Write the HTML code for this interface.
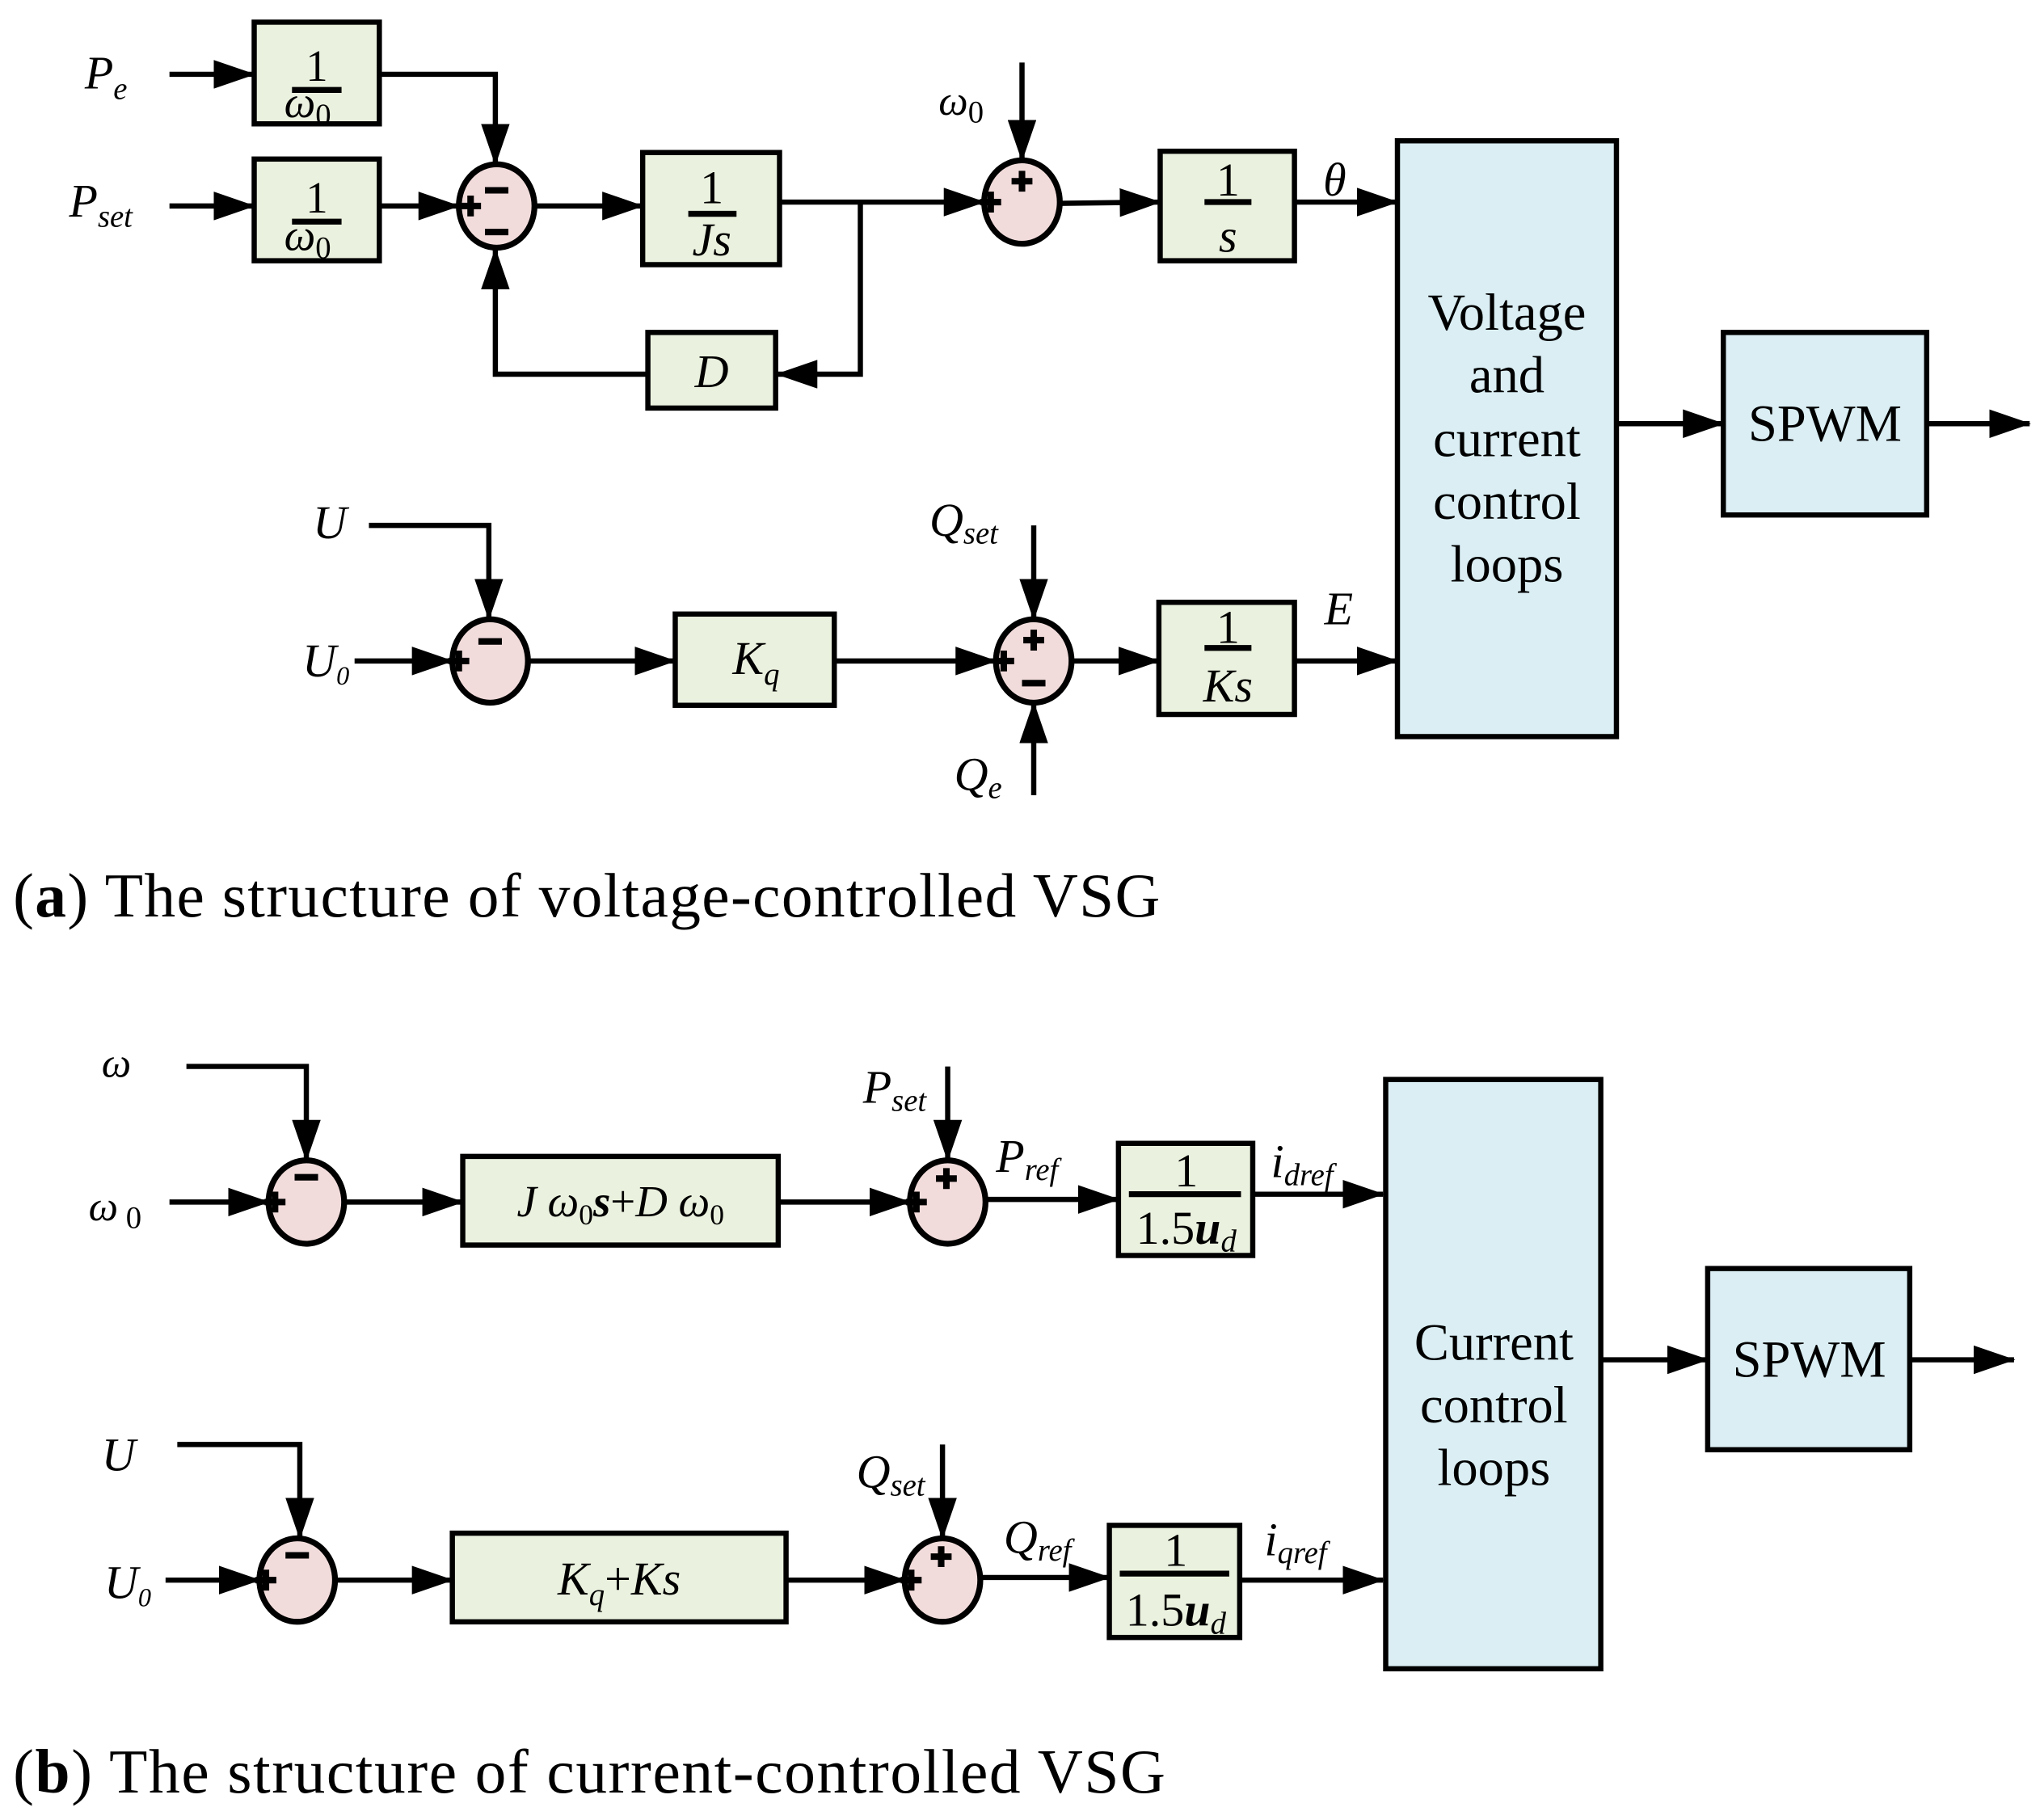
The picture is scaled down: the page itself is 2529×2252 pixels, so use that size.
<!DOCTYPE html>
<html><head><meta charset="utf-8"><style>
html,body{margin:0;padding:0;background:#fff;}
svg{display:block;}
text{font-family:"Liberation Serif",serif;fill:#000;}
.i{font-style:italic;}
</style></head><body>
<svg width="2529" height="2252" viewBox="0 0 1568 1396" preserveAspectRatio="none" xmlns="http://www.w3.org/2000/svg">
<defs>
<marker id="a" viewBox="0 0 32 22" refX="31" refY="11" markerWidth="32" markerHeight="22" markerUnits="userSpaceOnUse" orient="auto">
<path d="M0,0 L32,11 L0,22 z" fill="#000"/></marker>
</defs>
<g stroke="#000" stroke-width="4" fill="none" stroke-linejoin="miter">
<rect x="195" y="17" width="96" height="78" fill="#eaf1de"/>
<rect x="195" y="122" width="96" height="78" fill="#eaf1de"/>
<rect x="493" y="117" width="105" height="86" fill="#eaf1de"/>
<rect x="497" y="255" width="98" height="58" fill="#eaf1de"/>
<rect x="890" y="116" width="103" height="84" fill="#eaf1de"/>
<rect x="1072" y="108" width="168" height="457" fill="#daeef3"/>
<rect x="1322" y="255" width="156" height="140" fill="#daeef3"/>
<rect x="518" y="471" width="122" height="70" fill="#eaf1de"/>
<rect x="889" y="462" width="104" height="86" fill="#eaf1de"/>
<rect x="355" y="887" width="242" height="68" fill="#eaf1de"/>
<rect x="858" y="877" width="103" height="86" fill="#eaf1de"/>
<rect x="1063" y="828" width="165" height="452" fill="#daeef3"/>
<rect x="1310" y="973" width="155" height="139" fill="#daeef3"/>
<rect x="347" y="1176" width="256" height="68" fill="#eaf1de"/>
<rect x="851" y="1170" width="100" height="86" fill="#eaf1de"/>
<g stroke-width="4.5" fill="#f2dcdb">
<ellipse cx="381" cy="158" rx="29" ry="32"/>
<ellipse cx="784" cy="155" rx="29" ry="32"/>
<ellipse cx="376" cy="507" rx="29" ry="32"/>
<ellipse cx="793" cy="507" rx="29" ry="32"/>
<ellipse cx="235" cy="922" rx="29" ry="32"/>
<ellipse cx="727" cy="922" rx="29" ry="32"/>
<ellipse cx="228" cy="1212" rx="29" ry="32"/>
<ellipse cx="723" cy="1212" rx="29" ry="32"/>
</g>
<path d="M130,57 H195" marker-end="url(#a)"/>
<path d="M130,158 H195" marker-end="url(#a)"/>
<path d="M291,57 H380 V126" marker-end="url(#a)"/>
<path d="M291,158 H352" marker-end="url(#a)"/>
<path d="M410,158 H493" marker-end="url(#a)"/>
<path d="M598,155 H755" marker-end="url(#a)"/>
<path d="M660,155 V287 H596" marker-end="url(#a)"/>
<path d="M497,287 H380 V191" marker-end="url(#a)"/>
<path d="M784,48 V123" marker-end="url(#a)"/>
<path d="M813,156 L890,155" marker-end="url(#a)"/>
<path d="M993,155 H1072" marker-end="url(#a)"/>
<path d="M1240,325 H1322" marker-end="url(#a)"/>
<path d="M1478,325 H1557" marker-end="url(#a)"/>
<path d="M283,403 H375 V475" marker-end="url(#a)"/>
<path d="M272,507 H347" marker-end="url(#a)"/>
<path d="M405,507 H518" marker-end="url(#a)"/>
<path d="M640,507 H764" marker-end="url(#a)"/>
<path d="M793,403 V475" marker-end="url(#a)"/>
<path d="M793,610 V539" marker-end="url(#a)"/>
<path d="M822,507 H889" marker-end="url(#a)"/>
<path d="M993,507 H1072" marker-end="url(#a)"/>
<path d="M143,818 H235 V890" marker-end="url(#a)"/>
<path d="M130,922 H206" marker-end="url(#a)"/>
<path d="M264,922 H355" marker-end="url(#a)"/>
<path d="M597,922 H698" marker-end="url(#a)"/>
<path d="M727,818 V890" marker-end="url(#a)"/>
<path d="M756,920 H858" marker-end="url(#a)"/>
<path d="M961,916 H1061" marker-end="url(#a)"/>
<path d="M1228,1043 H1310" marker-end="url(#a)"/>
<path d="M1465,1043 H1545" marker-end="url(#a)"/>
<path d="M136,1108 H230 V1180" marker-end="url(#a)"/>
<path d="M127,1212 H199" marker-end="url(#a)"/>
<path d="M257,1212 H347" marker-end="url(#a)"/>
<path d="M603,1212 H694" marker-end="url(#a)"/>
<path d="M723,1108 V1180" marker-end="url(#a)"/>
<path d="M752,1210 H851" marker-end="url(#a)"/>
<path d="M951,1212 H1061" marker-end="url(#a)"/>
<path d="M224,69 H262 M224,170 H262 M528,164 H565 M924,155 H960 M924,497 H960 M866,916 H952 M859,1207 H943" stroke-width="4.5"/>
<g stroke-width="5">
<path d="M353,158 h16 M361,150 v16 M372,146 h18 M372,178 h18"/>
<path d="M752,155 h16 M760,147 v16 M776,139 h16 M784,131 v16"/>
<path d="M344,507 h16 M352,499 v16 M367,492 h18"/>
<path d="M762,507 h16 M770,499 v16 M785,491 h16 M793,483 v16 M784,524 h18"/>
<path d="M203,922 h16 M211,914 v16 M226,903 h18"/>
<path d="M695,922 h16 M703,914 v16 M718,904 h16 M726,896 v16"/>
<path d="M196,1212 h16 M204,1204 v16 M219,1193 h18"/>
<path d="M691,1212 h16 M699,1204 v16 M714,1194 h16 M722,1186 v16"/>
</g>
</g>
<g font-size="36">
<text x="65" y="68" class="i">P<tspan font-size="24" dy="8">e</tspan></text>
<text x="53" y="166" class="i">P<tspan font-size="24" dy="8">set</tspan></text>
<text x="243" y="62" text-anchor="middle" font-size="34">1</text>
<text x="236" y="90" text-anchor="middle" font-size="34" class="i">ω<tspan font-size="24" dy="6" font-style="normal">0</tspan></text>
<text x="243" y="163" text-anchor="middle" font-size="34">1</text>
<text x="236" y="192" text-anchor="middle" font-size="34" class="i">ω<tspan font-size="24" dy="6" font-style="normal">0</tspan></text>
<text x="546" y="156" text-anchor="middle" font-size="36">1</text>
<text x="546" y="196" text-anchor="middle" font-size="36" class="i">Js</text>
<text x="546" y="297" text-anchor="middle" class="i">D</text>
<text x="720" y="88" class="i" font-size="32">ω<tspan font-size="24" dy="6" font-style="normal">0</tspan></text>
<text x="942" y="150" text-anchor="middle" font-size="36">1</text>
<text x="942" y="193" text-anchor="middle" font-size="36" class="i">s</text>
<text x="1015" y="150" class="i">θ</text>
<g text-anchor="middle" font-size="40">
<text x="1156" y="253">Voltage</text>
<text x="1156" y="301">and</text>
<text x="1156" y="350">current</text>
<text x="1156" y="398">control</text>
<text x="1156" y="446">loops</text>
<text x="1400" y="338">SPWM</text>
<text x="1146" y="1043">Current</text>
<text x="1146" y="1091">control</text>
<text x="1146" y="1139">loops</text>
<text x="1388" y="1056">SPWM</text>
</g>
<text x="240" y="413" class="i">U</text>
<text x="232" y="519" class="i">U<tspan font-size="20" dy="6">0</tspan></text>
<text x="580" y="517" text-anchor="middle" class="i">K<tspan font-size="24" dy="8">q</tspan></text>
<text x="713" y="411" class="i">Q<tspan font-size="24" dy="6">set</tspan></text>
<text x="732" y="606" class="i">Q<tspan font-size="24" dy="6">e</tspan></text>
<text x="942" y="493" text-anchor="middle" font-size="36">1</text>
<text x="942" y="538" text-anchor="middle" font-size="36" class="i">Ks</text>
<text x="1016" y="479" class="i">E</text>
<text x="10" y="703" font-size="48" textLength="880" lengthAdjust="spacing"><tspan>(</tspan><tspan font-weight="bold">a</tspan><tspan>) The structure of voltage-controlled VSG</tspan></text>
<text x="78" y="826" class="i" font-size="32">ω</text>
<text x="68" y="936" class="i" font-size="32">ω<tspan font-size="24" dy="6" font-style="normal"> 0</tspan></text>
<text x="476" y="933" text-anchor="middle" class="i" font-size="34">J ω<tspan font-size="22" dy="6" font-style="normal">0</tspan><tspan dy="-6" font-weight="bold">s</tspan><tspan font-style="normal">+</tspan>D ω<tspan font-size="22" dy="6" font-style="normal">0</tspan></text>
<text x="662" y="846" class="i">P<tspan font-size="24" dy="6">set</tspan></text>
<text x="764" y="899" class="i">P<tspan font-size="24" dy="6">ref</tspan></text>
<text x="910" y="910" text-anchor="middle" font-size="36">1</text>
<text x="910" y="954" text-anchor="middle" font-size="36">1.5<tspan class="i" font-weight="bold">u</tspan><tspan class="i" font-size="24" dy="6">d</tspan></text>
<text x="975" y="903" class="i">i<tspan font-size="24" dy="6">dref</tspan></text>
<text x="78" y="1128" class="i">U</text>
<text x="80" y="1226" class="i">U<tspan font-size="20" dy="6">0</tspan></text>
<text x="475" y="1223" text-anchor="middle" class="i">K<tspan font-size="24" dy="8">q</tspan><tspan font-style="normal" dy="-8">+</tspan>Ks</text>
<text x="657" y="1141" class="i">Q<tspan font-size="24" dy="6">set</tspan></text>
<text x="770" y="1191" class="i">Q<tspan font-size="24" dy="6">ref</tspan></text>
<text x="902" y="1201" text-anchor="middle" font-size="36">1</text>
<text x="902" y="1247" text-anchor="middle" font-size="36">1.5<tspan class="i" font-weight="bold">u</tspan><tspan class="i" font-size="24" dy="6">d</tspan></text>
<text x="970" y="1193" class="i">i<tspan font-size="24" dy="6">qref</tspan></text>
<text x="10" y="1375" font-size="48" textLength="884" lengthAdjust="spacing"><tspan>(</tspan><tspan font-weight="bold">b</tspan><tspan>) The structure of current-controlled VSG</tspan></text>
</g>
</svg>
</body></html>
